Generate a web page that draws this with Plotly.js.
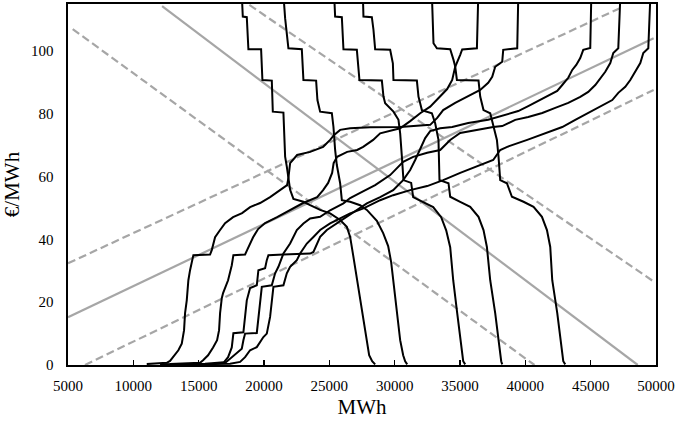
<!DOCTYPE html>
<html>
<head>
<meta charset="utf-8">
<script src="https://cdn.plot.ly/plotly-3.0.1.min.js"></script>
<style>html,body{margin:0;padding:0;background:#fff;}#chart{width:675px;height:426px;}</style>
</head>
<body>
<div id="chart"></div>
<script>
// Demand curves (decreasing), MWh vs €/MWh
const d1X = [18300,18377,18683,18806,19778,19878,20597,20674,21486,21616,21746,21868,22000,22252,23017,23530,24296,25061,25827,26340,26593,26822,27128,27511,27817,28047,28277,28507];
const d1Y = [118,111.0,110.8,100.6,100.6,90.8,90.6,80.7,80.4,66.4,63.2,60.0,55.8,52.9,52.0,50.9,49.4,48.3,46.2,44.0,40.8,35.0,27.0,16.5,7.9,3.1,1.2,0.2];
const d2X = [21486,21616,21868,22894,23017,23989,24089,24296,25192,25314,25444,25574,25827,25957,26593,27358,27871,28637,29120,29502,29732,29885,30192,30421,30651,30804,30958];
const d2Y = [118,110.5,100.9,100.6,90.8,90.6,84.4,80.7,80.2,75.9,68.5,63.7,57.9,52.5,52.0,50.9,49.4,45.9,42.0,37.9,32.8,27.0,16.5,7.9,3.1,1.2,0.2];
const d3X = [25368,25444,25957,26080,27106,27305,29020,29143,29273,29908,30291,30421,30551,30673,31263,31416,32182,32948,33560,33943,34250,34480,34786,35016,35169,35245,35398];
const d3Y = [118,111.0,110.8,100.6,100.4,90.8,90.6,85.5,83.4,80.7,78.1,73.8,66.4,58.9,58.0,53.5,51.9,50.3,47.1,42.9,37.5,27.0,16.5,7.9,3.1,1.2,0.2];
const d4X = [27565,27611,28254,28377,28507,29655,29862,29908,31699,31822,31952,32082,32848,33100,33353,33430,34119,34249,35014,35780,36416,36799,37059,37312,37694,37924,38077,38154,38231];
const d4Y = [118,111.0,110.8,106.8,100.6,100.4,96.1,90.8,90.6,85.5,83.4,81.2,80.2,77.0,71.7,58.9,57.9,53.6,52.0,50.4,47.2,43.0,37.6,27.0,16.5,7.9,3.1,1.2,0.2];
const d5X = [32848,32971,33231,34250,34503,34633,34763,36417,36547,36799,37313,37565,37825,37948,38078,38591,38974,39862,40628,41271,41654,41907,42060,42443,42673,42826,42903,43055];
const d5Y = [118,102.5,100.9,100.6,97.2,95.1,90.8,90.6,85.5,81.2,80.2,75.9,71.7,66.4,58.9,57.9,53.6,52.0,50.4,47.2,43.0,37.6,27.0,16.5,7.9,3.1,1.2,0.2];

// Supply curves (increasing)
const s1X = [11026,12557,12810,13063,13446,13706,13882,13959,14089,14212,14341,14594,15873,16003,16256,16639,17021,17634,18323,18935,19701,20467,21233,21769,21868,21922,21999,22535,23530,24525,25061,25368,25827,26593,28124,30421,32718,33254,33713,34632,35551,36546,37159,37465,37695,38231,38308,39380,39457];
const s1Y = [0.3,0.7,1.3,2.6,4.7,6.8,11.1,16.5,20.6,27.0,30.2,35.0,35.2,36.6,40.7,43.0,45.2,47.1,48.4,50.3,51.6,53.5,55.7,57.3,59.6,62.1,64.3,66.9,67.9,69.5,71.7,73.3,74.9,75.4,75.7,75.8,76.5,78.7,81.2,83.5,85.4,87.6,89.9,91.8,95.0,96.6,100.4,100.9,117];
const s2X = [12810,15107,15337,15720,16103,16409,16562,16639,16769,16868,17251,17534,17657,18553,18706,18935,19165,19548,20084,21003,21999,22994,24066,24525,24908,25214,25329,25597,26363,27128,27588,28354,28890,29426,30421,31187,31953,32718,33483,34019,34402,34632,35015,35168,36294,36393];
const s2Y = [0.3,0.7,1.5,3.1,5.6,7.9,11.1,16.5,21.3,22.9,27.0,31.8,35.0,35.2,36.6,38.5,40.7,43.3,45.2,47.1,49.3,51.6,53.5,55.7,58.0,61.2,64.3,66.3,67.9,68.5,69.5,71.7,73.8,74.3,75.4,77.7,80.2,82.3,85.4,87.9,90.8,95.0,98.8,100.5,100.9,117];
const s3X = [12044,15490,16945,17251,17534,17657,18423,18553,18683,18935,19448,19571,20084,20214,20337,21486,23530,23783,24043,24296,24809,25574,26340,27106,27872,28890,29886,30651,31187,31570,31953,32336,32718,33483,34402,35627,37159,38231,39456,40222,40988,41753,42442,42825,43285,43591,43897,44203,44433,44969,45046];
const s3Y = [0.2,0.4,0.9,2.5,5.6,10.1,10.4,15.2,20.6,24.5,25.4,30.2,30.8,33.4,35.0,35.2,35.5,36.0,38.7,40.8,43.0,45.1,47.2,49.3,51.5,53.5,55.7,58.9,62.1,65.3,69.1,72.3,74.5,75.4,75.8,77.1,78.1,79.3,80.9,82.5,84.1,85.7,87.3,89.2,91.5,94.0,95.6,97.8,100.4,101.0,117];
const s4X = [13193,16256,17098,17404,17917,18300,18423,18553,19449,19571,19701,19832,20597,20850,21103,21363,21486,21999,22252,22512,23017,23530,24296,25061,26080,26593,27358,28507,29655,30651,31416,32488,33483,34249,35014,36316,37541,38231,39226,40222,41294,42289,43285,44204,44816,45352,45735,46118,46501,46731,47113,47267];
const s4Y = [0.2,0.4,0.9,2.0,3.6,5.2,7.9,10.0,10.2,15.3,20.6,24.9,25.4,29.2,31.3,34.5,35.5,38.7,40.8,43.0,45.1,46.7,47.2,49.3,51.5,53.2,54.8,57.3,60.5,64.7,66.3,67.6,68.5,71.7,73.9,74.9,75.8,76.1,78.1,79.0,80.3,81.9,83.5,85.4,87.0,89.2,91.5,93.4,96.2,99.4,100.9,117];
const s5X = [14342,17404,18170,18553,18935,19448,19954,20214,20467,20597,20720,21486,21746,21999,22512,22764,23277,23783,24296,25061,25827,26593,27611,28890,29886,31187,32489,33714,35015,36316,37541,38077,38613,40145,41676,42825,43820,44816,45888,46654,47114,47649,48032,48415,48798,49028,49411,49564];
const s5Y = [0.2,0.4,1.0,2.5,4.7,5.7,8.9,10.0,15.3,19.6,24.9,25.4,29.2,31.3,33.4,35.5,38.7,40.8,43.0,45.1,46.7,48.3,49.9,52.5,54.1,55.7,57.0,58.9,61.2,63.4,65.3,68.5,69.5,71.7,73.9,75.8,78.1,80.3,82.5,84.4,86.7,88.6,90.8,93.4,96.2,99.4,100.9,117];

// Straight grey reference lines (end points)
const demandMidX = [12200, 48600];   const demandMidY = [114.3, 0];
const demandLowX = [5360, 40700];    const demandLowY = [107, 0];
const demandHighX = [18880, 49820];  const demandHighY = [114.7, 26.6];
const supplyMidX = [5000, 49820];    const supplyMidY = [15.2, 104.1];
const supplyHighX = [5000, 47520];   const supplyHighY = [32.4, 114.2];
const supplyLowX = [6300, 49820];    const supplyLowY = [0, 87.6];

const xTicks = [5000,10000,15000,20000,25000,30000,35000,40000,45000,50000];
const yTicks = [0,20,40,60,80,100];

const FONT = 'Liberation Serif';
const GREY = '#a6a6a6';

function blk(x, y) { return {x: x, y: y, type: 'scatter', mode: 'lines', line: {color: '#000', width: 2}, hoverinfo: 'skip'}; }
function gry(x, y, dash) { return {x: x, y: y, type: 'scatter', mode: 'lines', line: {color: GREY, width: 2.2, dash: dash}, hoverinfo: 'skip'}; }

const traces = [
  gry(demandMidX, demandMidY, 'solid'),
  gry(demandLowX, demandLowY, '8px,4px'),
  gry(demandHighX, demandHighY, '8px,4px'),
  gry(supplyMidX, supplyMidY, 'solid'),
  gry(supplyHighX, supplyHighY, '8px,4px'),
  gry(supplyLowX, supplyLowY, '8px,4px'),
  blk(d1X, d1Y), blk(d2X, d2Y), blk(d3X, d3Y), blk(d4X, d4Y), blk(d5X, d5Y),
  blk(s1X, s1Y), blk(s2X, s2Y), blk(s3X, s3Y), blk(s4X, s4Y), blk(s5X, s5Y)
];

const layout = {
  width: 675, height: 426,
  margin: {l: 68, r: 19, t: 4, b: 61},
  paper_bgcolor: '#fff', plot_bgcolor: '#fff',
  showlegend: false,
  font: {family: FONT, color: '#000'},
  xaxis: {
    range: [5000, 50000], tickvals: xTicks, ticktext: xTicks.map(String),
    ticks: 'inside', ticklen: 5, tickwidth: 1.3, tickcolor: '#000',
    showgrid: false, zeroline: false, showline: true, mirror: true,
    linecolor: '#000', linewidth: 1.6,
    tickfont: {family: FONT, size: 15, color: '#000'},
    ticklabelstandoff: 6,
    title: {text: 'MWh', font: {family: FONT, size: 21, color: '#000'}, standoff: 7},
    automargin: false
  },
  yaxis: {
    range: [0, 115], tickvals: yTicks, ticktext: yTicks.map(String),
    ticks: '', showgrid: false, zeroline: false, showline: true, mirror: true,
    linecolor: '#000', linewidth: 1.6,
    tickfont: {family: FONT, size: 15, color: '#000'},
    ticklabelstandoff: 10,
    title: {text: '€/MWh', font: {family: FONT, size: 21, color: '#000'}, standoff: 8},
    automargin: false
  }
};

Plotly.newPlot('chart', traces, layout, {staticPlot: true, displayModeBar: false});
</script>
</body>
</html>
